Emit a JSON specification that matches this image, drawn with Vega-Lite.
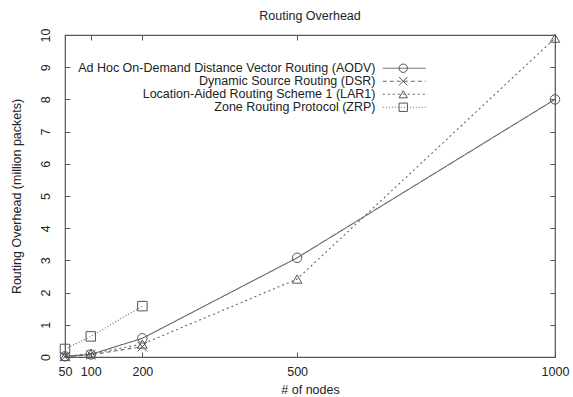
{
  "$schema": "https://vega.github.io/schema/vega-lite/v6.json",
  "width": 490,
  "height": 322,
  "autosize": "none",
  "padding": {"left": 65, "top": 35, "right": 18, "bottom": 40},
  "background": "white",
  "config": {
    "font": "Liberation Sans",
    "view": {"stroke": "#555", "strokeWidth": 1.2},
    "axis": {"grid": false, "domain": false, "tickColor": "#555", "labelColor": "#222", "titleColor": "#222", "labelFontSize": 12.5, "titleFontSize": 12.5, "titleFontWeight": "normal", "labelFlush": false},
    "title": {"fontSize": 12.5, "fontWeight": "normal", "color": "#222"}
  },
  "title": {"text": "Routing Overhead", "offset": 6},
  "data": {"values": [
    {"series": "Ad Hoc On-Demand Distance Vector Routing (AODV)", "line": "Ad Hoc On-Demand Distance Vector Routing (AODV)", "nodes": 50, "overhead": 0.02},
    {"series": "Ad Hoc On-Demand Distance Vector Routing (AODV)", "line": "Ad Hoc On-Demand Distance Vector Routing (AODV)", "nodes": 100, "overhead": 0.08},
    {"series": "Ad Hoc On-Demand Distance Vector Routing (AODV)", "line": "Ad Hoc On-Demand Distance Vector Routing (AODV)", "nodes": 200, "overhead": 0.58},
    {"series": "Ad Hoc On-Demand Distance Vector Routing (AODV)", "line": "Ad Hoc On-Demand Distance Vector Routing (AODV)", "nodes": 500, "overhead": 3.08},
    {"series": "Ad Hoc On-Demand Distance Vector Routing (AODV)", "line": "Ad Hoc On-Demand Distance Vector Routing (AODV)", "nodes": 1000, "overhead": 8.0},
    {"series": "Dynamic Source Routing (DSR)", "line": "Dynamic Source Routing (DSR)", "nodes": 50, "overhead": 0.01},
    {"series": "Dynamic Source Routing (DSR)", "line": "Dynamic Source Routing (DSR)", "nodes": 100, "overhead": 0.07},
    {"series": "Dynamic Source Routing (DSR)", "line": "Dynamic Source Routing (DSR)", "nodes": 200, "overhead": 0.32},
    {"series": "Location-Aided Routing Scheme 1 (LAR1)", "line": "Location-Aided Routing Scheme 1 (LAR1)", "nodes": 50, "overhead": 0.02},
    {"series": "Location-Aided Routing Scheme 1 (LAR1)", "line": "Location-Aided Routing Scheme 1 (LAR1)", "nodes": 100, "overhead": 0.1},
    {"series": "Location-Aided Routing Scheme 1 (LAR1)", "line": "Location-Aided Routing Scheme 1 (LAR1)", "nodes": 200, "overhead": 0.4},
    {"series": "Location-Aided Routing Scheme 1 (LAR1)", "line": "Location-Aided Routing Scheme 1 (LAR1)", "nodes": 500, "overhead": 2.42},
    {"series": "Location-Aided Routing Scheme 1 (LAR1)", "line": "Location-Aided Routing Scheme 1 (LAR1)", "nodes": 1000, "overhead": 9.9},
    {"series": "Zone Routing Protocol (ZRP)", "line": "Zone Routing Protocol (ZRP)", "nodes": 50, "overhead": 0.25},
    {"series": "Zone Routing Protocol (ZRP)", "line": "Zone Routing Protocol (ZRP)", "nodes": 100, "overhead": 0.64},
    {"series": "Zone Routing Protocol (ZRP)", "line": "Zone Routing Protocol (ZRP)", "nodes": 200, "overhead": 1.58}
  ]},
  "layer": [
    {
      "mark": {"type": "line", "strokeWidth": 1.1, "color": "#666"},
      "encoding": {
        "x": {"field": "nodes", "type": "quantitative", "scale": {"domain": [50, 1000], "nice": false, "zero": false},
              "axis": {"orient": "bottom", "values": [50, 100, 200, 500, 1000], "format": "d", "tickSize": -5, "labelPadding": 13, "title": "# of nodes", "titlePadding": 6}},
        "y": {"field": "overhead", "type": "quantitative", "scale": {"domain": [0, 10], "nice": false},
              "axis": {"orient": "left", "values": [0,1,2,3,4,5,6,7,8,9,10], "tickSize": -5, "labelAngle": -90, "labelPadding": 18, "labelAlign": "center", "labelBaseline": "bottom", "title": "Routing Overhead (million packets)", "titlePadding": 16}},
        "strokeDash": {"field": "line", "type": "nominal", "scale": {"range": [[1, 0], [4, 3], [2, 3], [1, 2]]},
          "legend": {"orient": "none", "legendX": 333, "legendY": 27, "title": null, "symbolType": "M-4,0L4,0", "symbolSize": 115, "symbolStrokeWidth": 1, "symbolStrokeColor": "#666", "labelColor": "transparent", "labelAlign": "right", "labelOffset": -34, "labelFontSize": 12.5, "labelLimit": 400, "rowPadding": 0, "padding": 0}}
      }
    },
    {
      "mark": {"type": "point", "filled": false, "size": 90, "strokeWidth": 1, "opacity": 1},
      "encoding": {
        "x": {"field": "nodes", "type": "quantitative", "axis": null},
        "y": {"field": "overhead", "type": "quantitative", "axis": null},
        "color": {"value": "#555"},
        "shape": {"field": "series", "type": "nominal", "scale": {"range": ["circle", "M-1,-1L1,1M-1,1L1,-1", "triangle-up", "square"]},
          "legend": {"orient": "none", "legendX": 332, "legendY": 27, "title": null, "symbolSize": 70, "symbolStrokeColor": "#555", "symbolFillColor": "white", "symbolStrokeWidth": 1, "labelAlign": "right", "labelOffset": -34, "labelFontSize": 12.5, "labelLimit": 400, "labelColor": "#222", "rowPadding": 0, "padding": 0}}
      }
    },
    {
      "mark": {"type": "point", "opacity": 0},
      "encoding": {
        "x": {"field": "nodes", "type": "quantitative", "axis": {"orient": "top", "values": [50, 100, 200, 500, 1000], "tickSize": -5, "labels": false, "title": null}},
        "y": {"field": "overhead", "type": "quantitative", "axis": {"orient": "right", "values": [0,1,2,3,4,5,6,7,8,9,10], "tickSize": -5, "labels": false, "title": null}}
      }
    }
  ],
  "resolve": {"axis": {"x": "independent", "y": "independent"}}
}
